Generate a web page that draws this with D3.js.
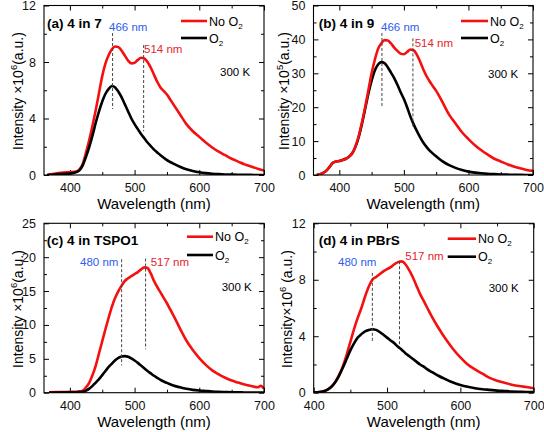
<!DOCTYPE html>
<html><head><meta charset="utf-8">
<script src="https://cdn.jsdelivr.net/npm/d3@7"></script>
<style>body{margin:0;background:#fff}svg{display:block;font-family:"Liberation Sans",Arial,sans-serif}</style>
</head><body>
<script>
// ---------- DATA ----------
const wlA = [365,370,380,390,400,410,415,420,425,430,435,440,445,450,455,460,465,470,475,480,485,490,495,500,505,510,515,520,525,530,535,540,545,550,555,560,570,580,590,600,610,620,630,640,650,660,670,680,690,700];
const noO2A = [0,0.05,0.12,0.18,0.2,0.25,0.4,0.8,1.6,2.5,3.5,4.6,5.8,7.0,7.9,8.5,8.9,9.1,9.05,8.8,8.45,8.1,7.9,7.95,8.15,8.3,8.25,8.0,7.6,7.1,6.6,6.2,5.95,5.7,5.35,5.0,4.3,3.6,3.1,2.7,2.3,1.95,1.65,1.4,1.15,0.95,0.75,0.6,0.45,0.32];
const o2A = [0,0.02,0.05,0.08,0.1,0.2,0.35,0.7,1.3,2.0,2.8,3.7,4.5,5.2,5.75,6.1,6.3,6.2,5.9,5.5,5.0,4.5,4.0,3.6,3.25,2.9,2.6,2.3,2.05,1.8,1.6,1.4,1.22,1.05,0.92,0.8,0.58,0.4,0.28,0.19,0.13,0.09,0.06,0.04,0.03,0.02,0.01,0.01,0,0];

const wlB = [365,370,375,380,385,390,395,400,405,410,415,420,425,430,435,440,445,450,455,460,465,470,475,480,485,490,495,500,505,510,515,520,525,530,535,540,545,550,555,560,570,580,590,600,610,620,630,640,650,660,670,680,690,700];
const noO2B = [0,0.2,0.6,1.3,2.4,3.6,4.0,4.1,4.4,4.8,5.4,6.4,8.5,11.5,15.5,20,25,30,34,37.2,38.8,39.8,39.7,38.8,37.6,36.6,35.8,35.6,36.3,37.0,36.8,35.5,33.5,31.2,29.2,27.6,26.2,24.8,23.2,21.4,17.8,15.2,12.6,10.6,8.8,7.3,6.0,4.8,4.0,3.2,2.5,2.0,1.5,1.2];
const o2B = [0,0.2,0.6,1.3,2.4,3.6,4.0,4.1,4.4,4.8,5.4,6.4,8.3,11.2,15,19.5,24,27.8,30.8,32.6,33.3,33.0,31.8,30.2,28.6,26.6,24.4,22.4,20.0,17.3,15.0,13.0,11.2,9.6,8.3,7.2,6.3,5.5,4.7,4.0,2.9,2.1,1.5,1.0,0.7,0.5,0.35,0.25,0.17,0.1,0.06,0.03,0.02,0.01];

const wlC = [368,380,400,410,415,420,425,430,435,440,445,450,455,460,465,470,475,480,485,490,495,500,505,510,515,520,525,530,535,540,545,550,555,560,570,580,590,600,610,620,630,640,650,660,670,680,690,695,700];
const noO2C = [0.05,0.08,0.12,0.15,0.2,0.3,0.8,1.5,2.6,4.0,5.8,7.6,9.4,11.1,12.7,14.0,15.0,15.8,16.5,16.9,17.2,17.5,17.8,18.2,18.5,18.4,17.6,16.5,15.6,14.8,14.0,13.2,12.3,11.4,9.5,7.7,6.3,5.1,4.1,3.3,2.7,2.2,1.8,1.5,1.2,1.0,0.8,1.0,0.6];
const o2C = [0.02,0.03,0.05,0.06,0.08,0.12,0.3,0.6,1.0,1.5,2.0,2.6,3.2,3.8,4.3,4.8,5.15,5.35,5.4,5.3,5.05,4.75,4.4,4.0,3.6,3.2,2.85,2.5,2.2,1.9,1.65,1.45,1.25,1.05,0.8,0.58,0.42,0.32,0.25,0.18,0.13,0.1,0.07,0.05,0.04,0.03,0.02,0.02,0.02];

const wlD = [400,405,410,415,420,425,430,435,440,445,450,455,460,465,470,475,480,485,490,495,500,505,510,515,520,525,530,535,540,545,550,555,560,570,580,590,600,610,620,630,640,650,660,670,680,690,700];
const noO2D = [0.02,0.03,0.06,0.12,0.25,0.47,0.8,1.3,1.9,2.7,3.6,4.5,5.3,6.0,6.8,7.5,8.0,8.2,8.4,8.6,8.75,8.9,9.1,9.25,9.3,9.1,8.7,8.2,7.6,7.0,6.5,6.0,5.5,4.6,3.8,3.1,2.5,2.0,1.65,1.35,1.05,0.85,0.7,0.57,0.47,0.4,0.32];
const o2D = [0.02,0.03,0.06,0.12,0.25,0.47,0.8,1.25,1.8,2.4,3.0,3.5,3.9,4.15,4.35,4.45,4.5,4.45,4.3,4.1,3.9,3.7,3.5,3.25,3.05,2.8,2.6,2.4,2.2,2.0,1.85,1.65,1.5,1.2,0.95,0.72,0.55,0.42,0.32,0.25,0.2,0.15,0.12,0.09,0.07,0.05,0.04];

const panelTitles = ["(a) 4 in 7","(b) 4 in 9","(c) 4 in TSPO1","(d) 4 in PBrS"];
const yExponents = ["6","5","6","6"];
const peakBlue = [466,466,480,480];
const peakRed = [514,514,517,517];
const xTicksMajor = [[400,500,600,700],[400,500,600,700],[400,500,600,700],[400,500,600,700]];
const yTicksMajor = [[0,4,8,12],[0,10,20,30,40,50],[0,5,10,15,20,25],[0,4,8,12]];
const legendLabels = ["No O","O"];
const tempLabel = "300 K";

// ---------- LAYOUT ----------
const W=544,H=432;
const svg=d3.select("body").append("svg").attr("width",W).attr("height",H);
const RED="#f51010", BLUE="#2f5cf0", ANN_RED="#e8242a";

const panels=[
 {frame:[44,5.5,264,175], xDom:[360,700], yDom:[0,12], yMinor:2, wl:wlA, red:noO2A, black:o2A, redTop:false,
  dashB:[10.05,4.67], dashR:[9.2,3.1], title:[47,27.5], lb:[109,30.5], lr:[144,52.5], leg:[181,207,21,38], temp:[220,75.5], ylab:[18,91], ysp:" "},
 {frame:[313.5,5.5,533,175], xDom:[360,700], yDom:[0,50], yMinor:5, wl:wlB, red:noO2B, black:o2B, redTop:true,
  dashB:[41.9,20.35], dashR:[40.3,14.2], title:[318.7,27.5], lb:[381,30.5], lr:[414.7,46.5], leg:[461,488,21,38], temp:[488,77.5], ylab:[284,91], ysp:" "},
 {frame:[44,223.3,264,392.7], xDom:[360,700], yDom:[0,25], yMinor:2.5, wl:wlC, red:noO2C, black:o2C, redTop:false,
  dashB:[19.7,4.04], dashR:[19.8,6.4], title:[46.7,245], lb:[80,265.5], lr:[150.7,265.5], leg:[187,213,236.7,255], temp:[221.7,291], ylab:[18,309], ysp:" "},
 {frame:[313.7,223.3,533.7,392.7], xDom:[400,700], yDom:[0,12], yMinor:2, wl:wlD, red:noO2D, black:o2D, redTop:false,
  dashB:[8.49,3.65], dashR:[9.31,3.42], title:[318.7,245], lb:[338,265.5], lr:[405.3,260], leg:[447.7,476,238.7,256.7], temp:[488.7,291.5], ylab:[287,309], ysp:""}
];

panels.forEach((p,i)=>{
  const [x0,y0,x1,y1]=p.frame;
  const x=d3.scaleLinear().domain(p.xDom).range([x0,x1]);
  const y=d3.scaleLinear().domain(p.yDom).range([y1,y0]);
  const g=svg.append("g");
  const clipId="clip"+i;
  g.append("clipPath").attr("id",clipId).append("rect").attr("x",x0).attr("y",y0).attr("width",x1-x0).attr("height",y1-y0);

  const xMinor=[]; for(let v=Math.ceil(p.xDom[0]/50)*50; v<=p.xDom[1]; v+=50) if(!xTicksMajor[i].includes(v)) xMinor.push(v);
  const yMinor=[]; for(let v=p.yMinor; v<p.yDom[1]; v+=p.yMinor*2) yMinor.push(v);

  const fs=12.5;
  const axB=d3.axisBottom(x).tickValues(xTicksMajor[i]).tickSizeInner(-5).tickSizeOuter(0).tickPadding(8).tickFormat(d3.format("d"));
  g.append("g").attr("transform",`translate(0,${y1})`).call(axB);
  const axL=d3.axisLeft(y).tickValues(yTicksMajor[i]).tickSizeInner(-5).tickSizeOuter(0).tickPadding(8).tickFormat(d3.format("d"));
  g.append("g").attr("transform",`translate(${x0},0)`).call(axL);
  g.append("g").attr("transform",`translate(0,${y0})`).call(d3.axisTop(x).tickValues(xTicksMajor[i]).tickSizeInner(-5).tickSizeOuter(0).tickFormat(""));
  g.append("g").attr("transform",`translate(${x1},0)`).call(d3.axisRight(y).tickValues(yTicksMajor[i]).tickSizeInner(-5).tickSizeOuter(0).tickFormat(""));
  g.append("g").attr("transform",`translate(0,${y1})`).call(d3.axisBottom(x).tickValues(xMinor).tickSizeInner(-3).tickSizeOuter(0).tickFormat(""));
  g.append("g").attr("transform",`translate(0,${y0})`).call(d3.axisTop(x).tickValues(xMinor).tickSizeInner(-3).tickSizeOuter(0).tickFormat(""));
  g.append("g").attr("transform",`translate(${x0},0)`).call(d3.axisLeft(y).tickValues(yMinor).tickSizeInner(-3).tickSizeOuter(0).tickFormat(""));
  g.append("g").attr("transform",`translate(${x1},0)`).call(d3.axisRight(y).tickValues(yMinor).tickSizeInner(-3).tickSizeOuter(0).tickFormat(""));
  g.selectAll(".domain").remove();
  g.selectAll(".tick line").attr("stroke","#000").attr("stroke-width",1);
  g.selectAll(".tick text").attr("font-size",fs).attr("font-family","Liberation Sans, Arial, sans-serif").attr("fill","#111");

  const line=d3.line().x(d=>x(d[0])).y(d=>y(d[1])).curve(d3.curveMonotoneX);
  const redPts=p.wl.map((w,k)=>[w,p.red[k]]), blkPts=p.wl.map((w,k)=>[w,p.black[k]]);
  const order = p.redTop ? [[blkPts,"#000"],[redPts,RED]] : [[redPts,RED],[blkPts,"#000"]];
  order.forEach(([pts,c])=>{
    g.append("path").attr("d",line(pts)).attr("fill","none").attr("stroke",c).attr("stroke-width",2.6)
      .attr("stroke-linejoin","round").attr("clip-path",`url(#${clipId})`);
  });

  g.append("rect").attr("x",x0).attr("y",y0).attr("width",x1-x0).attr("height",y1-y0)
   .attr("fill","none").attr("stroke","#000").attr("stroke-width",1.1);

  [[peakBlue[i],p.dashB],[peakRed[i],p.dashR]].forEach(([w,r])=>{
    g.append("line").attr("x1",x(w)).attr("x2",x(w)).attr("y1",y(r[0])).attr("y2",y(r[1]))
     .attr("stroke","#444").attr("stroke-width",1).attr("stroke-dasharray","3,2");
  });

  g.append("text").attr("x",p.title[0]).attr("y",p.title[1]).attr("font-size",13.5).attr("font-weight","bold").text(panelTitles[i]);
  g.append("text").attr("x",p.lb[0]).attr("y",p.lb[1]).attr("font-size",11.5).attr("fill",BLUE).text(peakBlue[i]+" nm");
  g.append("text").attr("x",p.lr[0]).attr("y",p.lr[1]).attr("font-size",11.5).attr("fill",ANN_RED).text(peakRed[i]+" nm");
  g.append("text").attr("x",p.temp[0]).attr("y",p.temp[1]).attr("font-size",11.5).text(tempLabel);

  const [lx0,lx1,ly1,ly2]=p.leg;
  g.append("line").attr("x1",lx0).attr("x2",lx1).attr("y1",ly1).attr("y2",ly1).attr("stroke",RED).attr("stroke-width",2.6);
  g.append("line").attr("x1",lx0).attr("x2",lx1).attr("y1",ly2).attr("y2",ly2).attr("stroke","#000").attr("stroke-width",2.6);
  const t1=g.append("text").attr("x",lx1+2).attr("y",ly1+4.5).attr("font-size",12.5);
  t1.append("tspan").text(legendLabels[0]);
  t1.append("tspan").attr("font-size",8).attr("dy",3).text("2");
  const t2=g.append("text").attr("x",lx1+2).attr("y",ly2+4.5).attr("font-size",12.5);
  t2.append("tspan").text(legendLabels[1]);
  t2.append("tspan").attr("font-size",8).attr("dy",3).text("2");

  g.append("text").attr("x",(x0+x1)/2).attr("y",y1+34).attr("text-anchor","middle").attr("font-size",15).text("Wavelength (nm)");
  const yl=g.append("text").attr("transform",`translate(${p.ylab[0]+5},${p.ylab[1]}) rotate(-90)`).attr("text-anchor","middle").attr("font-size",14);
  yl.append("tspan").text("Intensity"+p.ysp+"×10");
  yl.append("tspan").attr("font-size",9.5).attr("dy",-6).text(yExponents[i]);
  yl.append("tspan").attr("dy",6).text((i===3?" ":"")+"(a.u.)");
});
</script>
</body></html>
